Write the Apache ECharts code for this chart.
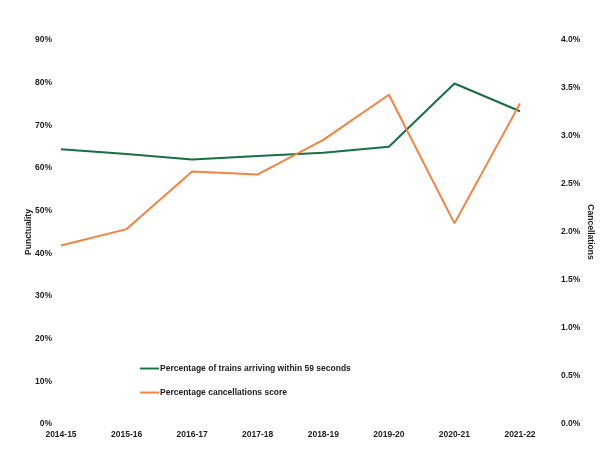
<!DOCTYPE html>
<html><head><meta charset="utf-8">
<script src="https://cdn.jsdelivr.net/npm/echarts@6/dist/echarts.min.js"></script>
<style>html,body{margin:0;padding:0;background:#fff}#c{width:603px;height:456px}</style>
</head><body><div id="c"></div>
<script>
const categories = ['2014-15','2015-16','2016-17','2017-18','2018-19','2019-20','2020-21','2021-22'];
const punctuality = [64.4, 63.3, 62.0, 62.8, 63.6, 65.0, 79.8, 73.3];
const cancellations = [1.86, 2.03, 2.63, 2.60, 2.96, 3.43, 2.09, 3.34];
const leftTicks = {min: 0, max: 90, interval: 10};
const rightTicks = {min: 0, max: 4, interval: 0.5};

const font = {fontFamily: 'Liberation Sans, Arial, sans-serif', fontWeight: 'bold', fontSize: 8.5, color: '#222'};
const chart = echarts.init(document.getElementById('c'), null, {renderer: 'canvas'});
chart.setOption({
  backgroundColor: '#fff',
  animation: false,
  grid: {left: 61, right: 82, top: 40, bottom: 32},
  legend: {
    orient: 'vertical', left: 135, top: 359, itemGap: 15, itemWidth: 19, itemHeight: 14,
    icon: 'path://M0,0 L20,0 L20,2 L0,2 Z',
    textStyle: Object.assign({}, font, {padding: [0,0,0,-4]}),
    data: ['Percentage of trains arriving within 59 seconds', 'Percentage cancellations score']
  },
  xAxis: {
    type: 'category', data: categories, boundaryGap: false,
    axisLine: {show: false}, axisTick: {show: false}, splitLine: {show: false},
    axisLabel: Object.assign({}, font, {margin: 6})
  },
  yAxis: [{
    type: 'value', min: leftTicks.min, max: leftTicks.max, interval: leftTicks.interval,
    name: 'Punctuality', nameLocation: 'middle', nameGap: 28, nameRotate: 90, nameMoveOverlap: false,
    nameTextStyle: Object.assign({}, font),
    axisLine: {show: false}, axisTick: {show: false}, splitLine: {show: false},
    axisLabel: Object.assign({}, font, {margin: 9, formatter: v => v + '%'})
  }, {
    type: 'value', min: rightTicks.min, max: rightTicks.max, interval: rightTicks.interval,
    name: 'Cancellations', nameLocation: 'middle', nameGap: 66, nameRotate: -90, nameMoveOverlap: false,
    nameTextStyle: Object.assign({}, font),
    axisLine: {show: false}, axisTick: {show: false}, splitLine: {show: false},
    axisLabel: Object.assign({}, font, {margin: 41, formatter: v => v.toFixed(1) + '%'})
  }],
  series: [{
    name: 'Percentage of trains arriving within 59 seconds', type: 'line', yAxisIndex: 0,
    data: punctuality, showSymbol: false, color: '#17703f', lineStyle: {width: 2, color: '#17703f'}
  }, {
    name: 'Percentage cancellations score', type: 'line', yAxisIndex: 1,
    data: cancellations, showSymbol: false, color: '#f7823f', lineStyle: {width: 2, color: '#f7823f'}
  }]
});
</script></body></html>
